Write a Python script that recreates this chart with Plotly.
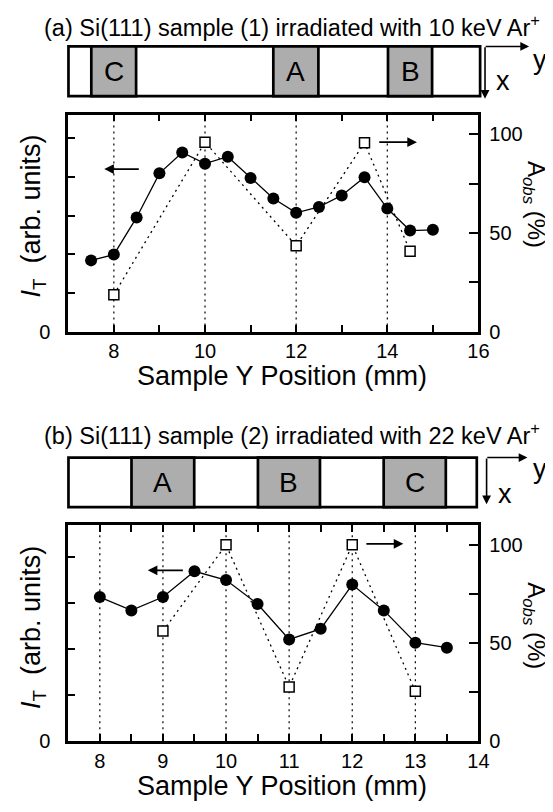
import plotly.graph_objects as go

# ---------------- data ----------------
# Panel (a): Si(111) sample (1), 10 keV Ar+
a_pos_it = [7.5, 8.0, 8.5, 9.0, 9.5, 10.0, 10.5, 11.0, 11.5, 12.0, 12.5, 13.0, 13.5, 14.0, 14.5, 15.0]
a_it = [1.84, 1.99, 2.95, 4.09, 4.63, 4.34, 4.52, 3.97, 3.44, 3.07, 3.22, 3.52, 3.99, 3.18, 2.61, 2.63]
a_pos_aobs = [8.0, 10.0, 12.0, 13.5, 14.5]
a_aobs = [18.7, 96.0, 43.5, 95.7, 40.7]
a_vlines = [8, 10, 12, 14]
a_regions = ["C", "A", "B"]
a_xticks = list(range(7, 17))
a_xticktext = [str(v) if v % 2 == 0 else "" for v in a_xticks]

# Panel (b): Si(111) sample (2), 22 keV Ar+
b_pos_it = [8.0, 8.5, 9.0, 9.5, 10.0, 10.5, 11.0, 11.5, 12.0, 12.5, 13.0, 13.5]
b_it = [3.13, 2.84, 3.13, 3.69, 3.50, 2.98, 2.21, 2.44, 3.40, 2.84, 2.14, 2.03]
b_pos_aobs = [9.0, 10.0, 11.0, 12.0, 13.0]
b_aobs = [56.1, 100.0, 27.6, 100.0, 25.4]
b_vlines = [8, 9, 10, 11, 12, 13]
b_regions = ["A", "B", "C"]
b_xticks = [7.5 + 0.5 * i for i in range(14)]
b_xticktext = [str(int(v)) if v == int(v) else "" for v in b_xticks]

aobs_ticks = [0, 25, 50, 75, 100]
aobs_ticktext = ["0", "", "50", "", "100"]

# ---------------- layout helpers ----------------
W, H = 553, 812
FONT = "Liberation Sans, Arial, sans-serif"


def px(x):
    return x / W


def py(y):
    return 1 - y / H


fig = go.Figure()

# traces panel (a)
fig.add_trace(go.Scatter(x=a_pos_aobs, y=a_aobs, xaxis="x", yaxis="y2", mode="lines+markers",
                         line=dict(color="black", width=1.3, dash="2px,4px"),
                         marker=dict(symbol="square", size=10, color="white",
                                     line=dict(color="black", width=1.5)),
                         showlegend=False))
fig.add_trace(go.Scatter(x=a_pos_it, y=a_it, xaxis="x", yaxis="y", mode="lines+markers",
                         line=dict(color="black", width=1.3),
                         marker=dict(symbol="circle", size=12, color="black"),
                         showlegend=False))
# traces panel (b)
fig.add_trace(go.Scatter(x=b_pos_aobs, y=b_aobs, xaxis="x2", yaxis="y4", mode="lines+markers",
                         line=dict(color="black", width=1.3, dash="2px,4px"),
                         marker=dict(symbol="square", size=10, color="white",
                                     line=dict(color="black", width=1.5)),
                         showlegend=False))
fig.add_trace(go.Scatter(x=b_pos_it, y=b_it, xaxis="x2", yaxis="y3", mode="lines+markers",
                         line=dict(color="black", width=1.3),
                         marker=dict(symbol="circle", size=12, color="black"),
                         showlegend=False))

shapes = []
for v in a_vlines:
    shapes.append(dict(type="line", xref="x", yref="y domain", x0=v, x1=v, y0=0, y1=1,
                       line=dict(color="black", width=1.2, dash="2px,4px"), layer="below"))
for v in b_vlines:
    shapes.append(dict(type="line", xref="x2", yref="y3 domain", x0=v, x1=v, y0=0, y1=1,
                       line=dict(color="black", width=1.2, dash="2px,4px"), layer="below"))

annotations = []

# sample schematics
GRAY = "#adadad"
LW = 2.7


def schematic(rect, grays, labels, corner, htip, vtip, ypos, xpos):
    x0, y0, x1, y1 = rect
    shapes.append(dict(type="rect", xref="paper", yref="paper", x0=px(x0), x1=px(x1),
                       y0=py(y1), y1=py(y0), fillcolor="white", line=dict(color="black", width=LW)))
    for (g0, g1), lab in zip(grays, labels):
        shapes.append(dict(type="rect", xref="paper", yref="paper", x0=px(g0), x1=px(g1),
                           y0=py(y1), y1=py(y0), fillcolor=GRAY, line=dict(color="black", width=LW)))
        annotations.append(dict(xref="paper", yref="paper", x=px((g0 + g1) / 2), y=py((y0 + y1) / 2),
                                text=lab, showarrow=False, font=dict(size=28, family=FONT, color="black"),
                                xanchor="center", yanchor="middle"))
    cx, cy = corner
    annotations.append(dict(xref="paper", yref="paper", x=px(htip[0]), y=py(htip[1]), text="",
                            showarrow=True, ax=cx - htip[0], ay=cy - htip[1], arrowhead=2,
                            arrowsize=1.1, arrowwidth=1.6, arrowcolor="black", standoff=0))
    annotations.append(dict(xref="paper", yref="paper", x=px(vtip[0]), y=py(vtip[1]), text="",
                            showarrow=True, ax=cx - vtip[0], ay=cy - vtip[1], arrowhead=2,
                            arrowsize=1.1, arrowwidth=1.6, arrowcolor="black", standoff=0))
    annotations.append(dict(xref="paper", yref="paper", x=px(ypos[0]), y=py(ypos[1]), text="y",
                            showarrow=False, font=dict(size=27, family=FONT, color="black"),
                            xanchor="center", yanchor="middle"))
    annotations.append(dict(xref="paper", yref="paper", x=px(xpos[0]), y=py(xpos[1]), text="x",
                            showarrow=False, font=dict(size=27, family=FONT, color="black"),
                            xanchor="center", yanchor="middle"))


schematic((61.7, 39, 481.7, 89.3), [(85, 130.7), (270.7, 316.7), (387.7, 432.7)], a_regions,
          (486.7, 39), (531.7, 39), (486.7, 92), (543, 53), (505, 74))
schematic((61.7, 455.7, 478.3, 506), [(126, 190), (255, 318.3), (383.3, 446.7)], b_regions,
          (488.3, 455.7), (530, 455.7), (488.3, 503), (543, 467), (507, 493))

# panel titles
annotations.append(dict(xref="paper", yref="paper", x=px(290), y=py(1),
                        text="(a) Si(111) sample (1) irradiated with 10 keV Ar<sup>+</sup>",
                        showarrow=False, font=dict(size=23.5, family=FONT, color="black"),
                        xanchor="center", yanchor="top"))
annotations.append(dict(xref="paper", yref="paper", x=px(290), y=py(432),
                        text="(b) Si(111) sample (2) irradiated with 22 keV Ar<sup>+</sup>",
                        showarrow=False, font=dict(size=23.5, family=FONT, color="black"),
                        xanchor="center", yanchor="middle"))

# axis titles
for yc_x, yc_l, yc_r in [(373, 211, 199), (789, 628, 626)]:
    annotations.append(dict(xref="paper", yref="paper", x=px(280), y=py(yc_x),
                            text="Sample Y Position (mm)", showarrow=False,
                            font=dict(size=27, family=FONT, color="black"),
                            xanchor="center", yanchor="middle"))
    annotations.append(dict(xref="paper", yref="paper", x=px(26), y=py(yc_l),
                            text="<i>I</i><sub>T</sub>  (arb. units)", showarrow=False, textangle=-90,
                            font=dict(size=27, family=FONT, color="black"),
                            xanchor="center", yanchor="middle"))
    annotations.append(dict(xref="paper", yref="paper", x=px(537), y=py(yc_r),
                            text="A<sub><i>obs</i></sub> (%)", showarrow=False, textangle=90,
                            font=dict(size=24, family=FONT, color="black"),
                            xanchor="center", yanchor="middle"))

# direction arrows
def arrow(xr, yr, tip, tail, yv):
    annotations.append(dict(xref=xr, yref=yr, axref=xr, ayref=yr, x=tip, y=yv, ax=tail, ay=yv,
                            text="", showarrow=True, arrowhead=2, arrowsize=1.2, arrowwidth=1.6,
                            arrowcolor="black", standoff=0))


arrow("x", "y", 7.79, 8.58, 4.20)
arrow("x", "y2", 14.65, 13.79, 96)
arrow("x2", "y3", 8.76, 9.34, 3.71)
arrow("x2", "y4", 12.81, 12.2, 100.5)

tickfont = dict(size=20, family=FONT, color="black")
common = dict(showgrid=False, zeroline=False, showline=True, linecolor="black", linewidth=2.7,
              ticks="inside", tickcolor="black", tickwidth=2, tickfont=tickfont)

xdom = [px(61.5), px(480)]
fig.update_layout(
    width=W, height=H, margin=dict(l=0, r=0, t=0, b=0),
    paper_bgcolor="white", plot_bgcolor="white",
    font=dict(family=FONT, color="black"),
    showlegend=False,
    xaxis=dict(domain=xdom, range=[7, 16], anchor="y", tickmode="array", tickvals=a_xticks,
               ticktext=a_xticktext, ticklen=7, mirror="ticks", ticklabelstandoff=0, **common),
    yaxis=dict(domain=[py(328), py(108)], range=[0, 5.61], anchor="x", tickmode="array",
               tickvals=[0, 1, 2, 3, 4, 5], ticktext=["0", "", "", "", "", ""], ticklen=7,
               ticklabelstandoff=11, **common),
    yaxis2=dict(overlaying="y", side="right", anchor="x", range=[0, 110], tickmode="array",
                tickvals=aobs_ticks, ticktext=aobs_ticktext, ticklen=10, ticklabelstandoff=4, **common),
    xaxis2=dict(domain=xdom, range=[7.5, 14], anchor="y3", tickmode="array", tickvals=b_xticks,
                ticktext=b_xticktext, ticklen=7, mirror="ticks", ticklabelstandoff=0, **common),
    yaxis3=dict(domain=[py(743.3), py(524.3)], range=[0, 4.69], anchor="x2", tickmode="array",
                tickvals=[0, 1, 2, 3, 4], ticktext=["0", "", "", "", ""], ticklen=7,
                ticklabelstandoff=11, **common),
    yaxis4=dict(overlaying="y3", side="right", anchor="x2", range=[0, 110], tickmode="array",
                tickvals=aobs_ticks, ticktext=aobs_ticktext, ticklen=10, ticklabelstandoff=4, **common),
    shapes=shapes,
    annotations=annotations,
)

fig.write_html("out.html")
